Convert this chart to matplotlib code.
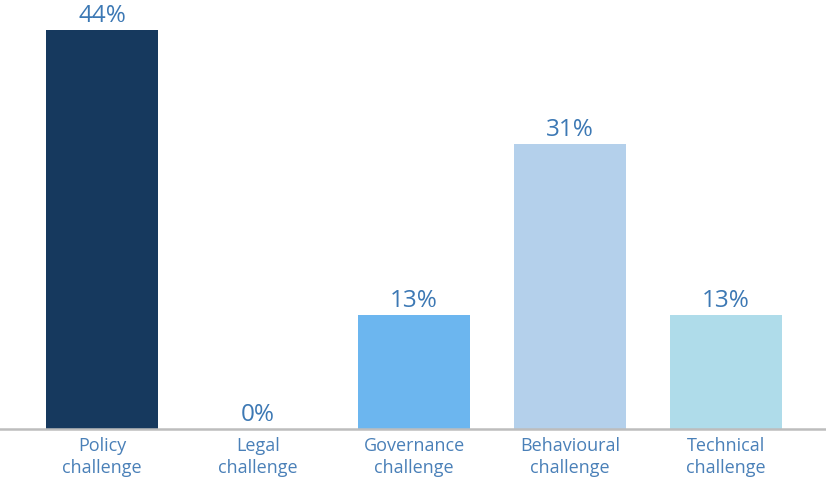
import matplotlib
matplotlib.use("Agg")
from matplotlib import pyplot as plt

# Data (share of responses, %)
categories = ["Policy\nchallenge", "Legal\nchallenge", "Governance\nchallenge",
              "Behavioural\nchallenge", "Technical\nchallenge"]
values = [43.75, 0, 12.5, 31.25, 12.5]
value_labels = ["44%", "0%", "13%", "31%", "13%"]
bar_colors = ["#16395e", "#16395e", "#6cb6ef", "#b4d0eb", "#afdcea"]

text_blue = "#3c78b4"

plt.rcParams['font.family'] = ['Open Sans', 'DejaVu Sans']

fig = plt.figure(figsize=(8.26, 4.81), dpi=100)
ax = fig.add_axes([0, 0.106, 1, 0.894])

x = range(len(categories))
bars = ax.bar(x, values, width=0.718, color=bar_colors)

for bar, label in zip(bars, value_labels):
    ax.annotate(label, (bar.get_x() + bar.get_width() / 2, bar.get_height()),
                xytext=(0, 2), textcoords="offset points",
                ha="center", va="bottom", fontsize=17.5, color=text_blue)

ax.set_xlim(-0.654, 4.641)
ax.set_ylim(0, 47.1)

ax.set_xticks(list(x))
ax.set_xticklabels(categories, fontsize=13, color="#4a80b8", linespacing=1.3)
ax.tick_params(axis="x", length=0, pad=5)
ax.set_yticks([])

for side in ["top", "left", "right"]:
    ax.spines[side].set_visible(False)
ax.spines["bottom"].set_color("#bdbdbd")
ax.spines["bottom"].set_linewidth(1.8)

fig.savefig("out.png", dpi=100)
